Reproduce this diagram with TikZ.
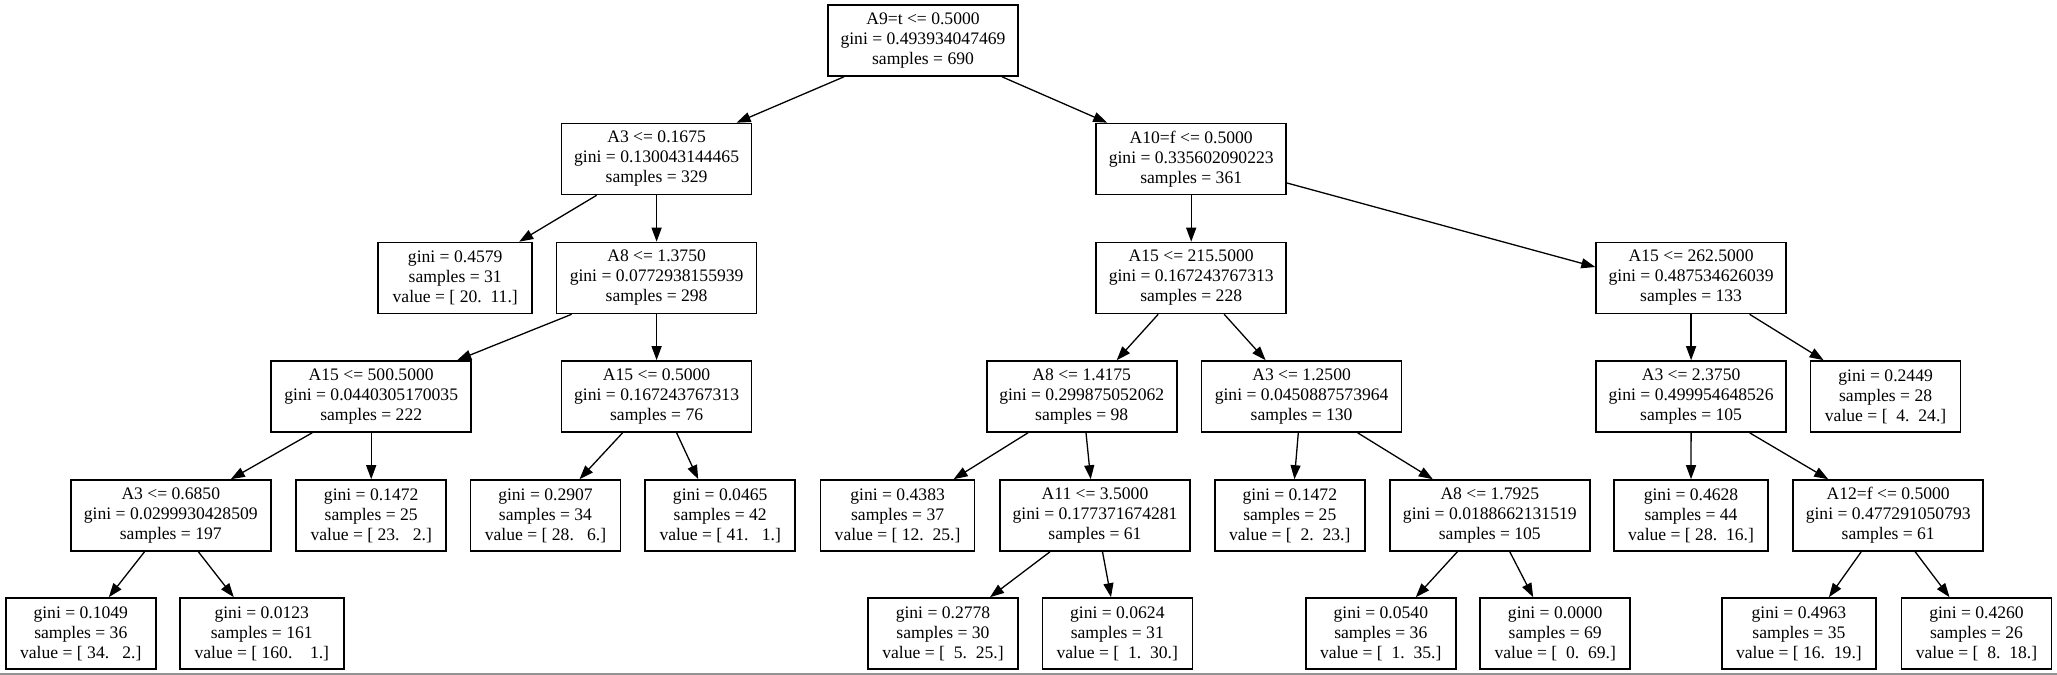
\documentclass[tikz,border=0pt]{standalone}
\usepackage{fontspec}
\setmainfont{Liberation Serif}
\usetikzlibrary{arrows.meta}
\newcommand\gvfont{\fontsize{17.6bp}{20bp}\selectfont}
\tikzset{
  tbox/.style={draw=black, line width=1.6bp, inner sep=0pt, minimum height=71bp, align=center, font=\gvfont, fill=white},
  w150/.style={tbox, minimum width=150bp},
  w154/.style={tbox, minimum width=154bp},
  w164/.style={tbox, minimum width=164bp},
  w190/.style={tbox, minimum width=190bp},
  w200/.style={tbox, minimum width=200bp},
  edge/.style={draw=black, line width=1.3bp, -{Triangle[length=14bp,width=10bp]}}
}
\begin{document}
\begin{tikzpicture}[x=1bp,y=-1bp]
\useasboundingbox (0,0) rectangle (2057,675);
\fill[white] (0,0) rectangle (2057,675);
\draw[gray!85, line width=2bp] (0,674) -- (2057,674);
% level 0
\node[w190] (root) at (923,40.5) {A9=t <= 0.5000\\gini = 0.493934047469\\samples = 690};
% level 1
\node[w190] (A3a) at (656.6,159) {A3 <= 0.1675\\gini = 0.130043144465\\samples = 329};
\node[w190] (A10) at (1191.2,159) {A10=f <= 0.5000\\gini = 0.335602090223\\samples = 361};
% level 2
\node[w154] (g4579) at (455.2,278) {gini = 0.4579\\samples = 31\\value = [ 20.\ \ 11.]};
\node[w200] (A8a) at (656.6,278) {A8 <= 1.3750\\gini = 0.0772938155939\\samples = 298};
\node[w190] (A15c) at (1191.2,278) {A15 <= 215.5000\\gini = 0.167243767313\\samples = 228};
\node[w190] (A15d) at (1691.1,278) {A15 <= 262.5000\\gini = 0.487534626039\\samples = 133};
% level 3
\node[w200] (A15a) at (371.2,396.5) {A15 <= 500.5000\\gini = 0.0440305170035\\samples = 222};
\node[w190] (A15b) at (656.6,396.5) {A15 <= 0.5000\\gini = 0.167243767313\\samples = 76};
\node[w190] (A8b) at (1081.7,396.5) {A8 <= 1.4175\\gini = 0.299875052062\\samples = 98};
\node[w200] (A3c) at (1301.6,396.5) {A3 <= 1.2500\\gini = 0.0450887573964\\samples = 130};
\node[w190] (A3d) at (1691.1,396.5) {A3 <= 2.3750\\gini = 0.499954648526\\samples = 105};
\node[w150] (g2449) at (1885.6,396.5) {gini = 0.2449\\samples = 28\\value = [\ \ 4.\ \ 24.]};
% level 4
\node[w200] (A3b) at (170.8,515.5) {A3 <= 0.6850\\gini = 0.0299930428509\\samples = 197};
\node[w150] (g1472a) at (371.2,515.5) {gini = 0.1472\\samples = 25\\value = [ 23.\ \ \ 2.]};
\node[w150] (g2907) at (545.5,515.5) {gini = 0.2907\\samples = 34\\value = [ 28.\ \ \ 6.]};
\node[w150] (g0465) at (720.2,515.5) {gini = 0.0465\\samples = 42\\value = [ 41.\ \ \ 1.]};
\node[w154] (g4383) at (897.6,515.5) {gini = 0.4383\\samples = 37\\value = [ 12.\ \ 25.]};
\node[w190] (A11) at (1095,515.5) {A11 <= 3.5000\\gini = 0.177371674281\\samples = 61};
\node[w150] (g1472b) at (1289.8,515.5) {gini = 0.1472\\samples = 25\\value = [\ \ 2.\ \ 23.]};
\node[w200] (A8c) at (1489.8,515.5) {A8 <= 1.7925\\gini = 0.0188662131519\\samples = 105};
\node[w154] (g4628) at (1691,515.5) {gini = 0.4628\\samples = 44\\value = [ 28.\ \ 16.]};
\node[w190] (A12) at (1888.2,515.5) {A12=f <= 0.5000\\gini = 0.477291050793\\samples = 61};
% level 5
\node[w150] (g1049) at (80.8,633.5) {gini = 0.1049\\samples = 36\\value = [ 34.\ \ \ 2.]};
\node[w164] (g0123) at (261.8,633.5) {gini = 0.0123\\samples = 161\\value = [ 160.\ \ \ \ 1.]};
\node[w150] (g2778) at (943,633.5) {gini = 0.2778\\samples = 30\\value = [\ \ 5.\ \ 25.]};
\node[w150] (g0624) at (1117.3,633.5) {gini = 0.0624\\samples = 31\\value = [\ \ 1.\ \ 30.]};
\node[w150] (g0540) at (1380.8,633.5) {gini = 0.0540\\samples = 36\\value = [\ \ 1.\ \ 35.]};
\node[w150] (g0000) at (1555.2,633.5) {gini = 0.0000\\samples = 69\\value = [\ \ 0.\ \ 69.]};
\node[w154] (g4963) at (1798.9,633.5) {gini = 0.4963\\samples = 35\\value = [ 16.\ \ 19.]};
\node[w150] (g4260) at (1976.5,633.5) {gini = 0.4260\\samples = 26\\value = [\ \ 8.\ \ 18.]};
% edges
\draw[edge] ([xshift=-79bp]root.south) -- ([xshift=80bp]A3a.north);
\draw[edge] ([xshift=79bp]root.south) -- ([xshift=-84bp]A10.north);
\draw[edge] ([xshift=-60bp]A3a.south) -- ([xshift=64bp]g4579.north);
\draw[edge] (A3a.south) -- (A8a.north);
\draw[edge] (A10.south) -- (A15c.north);
\draw[edge] ([yshift=-24bp]A10.east) -- ([yshift=11bp]A15d.west);
\draw[edge] ([xshift=-85bp]A8a.south) -- ([xshift=86bp]A15a.north);
\draw[edge] (A8a.south) -- (A15b.north);
\draw[edge] ([xshift=-33bp]A15c.south) -- ([xshift=35bp]A8b.north);
\draw[edge] ([xshift=33bp]A15c.south) -- ([xshift=-36bp]A3c.north);
\draw[edge] (A15d.south) -- (A3d.north);
\draw[edge] ([xshift=58.5bp]A15d.south) -- ([xshift=-62bp]g2449.north);
\draw[edge] ([xshift=-59bp]A15a.south) -- ([xshift=60bp]A3b.north);
\draw[edge] (A15a.south) -- (g1472a.north);
\draw[edge] ([xshift=-34bp]A15b.south) -- ([xshift=34bp]g2907.north);
\draw[edge] ([xshift=20bp]A15b.south) -- ([xshift=-22bp]g0465.north);
\draw[edge] ([xshift=-53.7bp]A8b.south) -- ([xshift=56bp]g4383.north);
\draw[edge] ([xshift=4.3bp]A8b.south) -- ([xshift=-4.3bp]A11.north);
\draw[edge] ([xshift=-3.3bp]A3c.south) -- ([xshift=4.6bp]g1472b.north);
\draw[edge] ([xshift=56bp]A3c.south) -- ([xshift=-57bp]A8c.north);
\draw[edge] (A3d.south) -- (g4628.north);
\draw[edge] ([xshift=58.5bp]A3d.south) -- ([xshift=-60bp]A12.north);
\draw[edge] ([xshift=-26.3bp]A3b.south) -- ([xshift=28bp]g1049.north);
\draw[edge] ([xshift=27.6bp]A3b.south) -- ([xshift=-28bp]g0123.north);
\draw[edge] ([xshift=-45bp]A11.south) -- ([xshift=47bp]g2778.north);
\draw[edge] ([xshift=7.5bp]A11.south) -- ([xshift=-6.3bp]g0624.north);
\draw[edge] ([xshift=-32.5bp]A8c.south) -- ([xshift=35bp]g0540.north);
\draw[edge] ([xshift=20bp]A8c.south) -- ([xshift=-22bp]g0000.north);
\draw[edge] ([xshift=-27bp]A12.south) -- ([xshift=30bp]g4963.north);
\draw[edge] ([xshift=27bp]A12.south) -- ([xshift=-27bp]g4260.north);
\end{tikzpicture}
\end{document}
